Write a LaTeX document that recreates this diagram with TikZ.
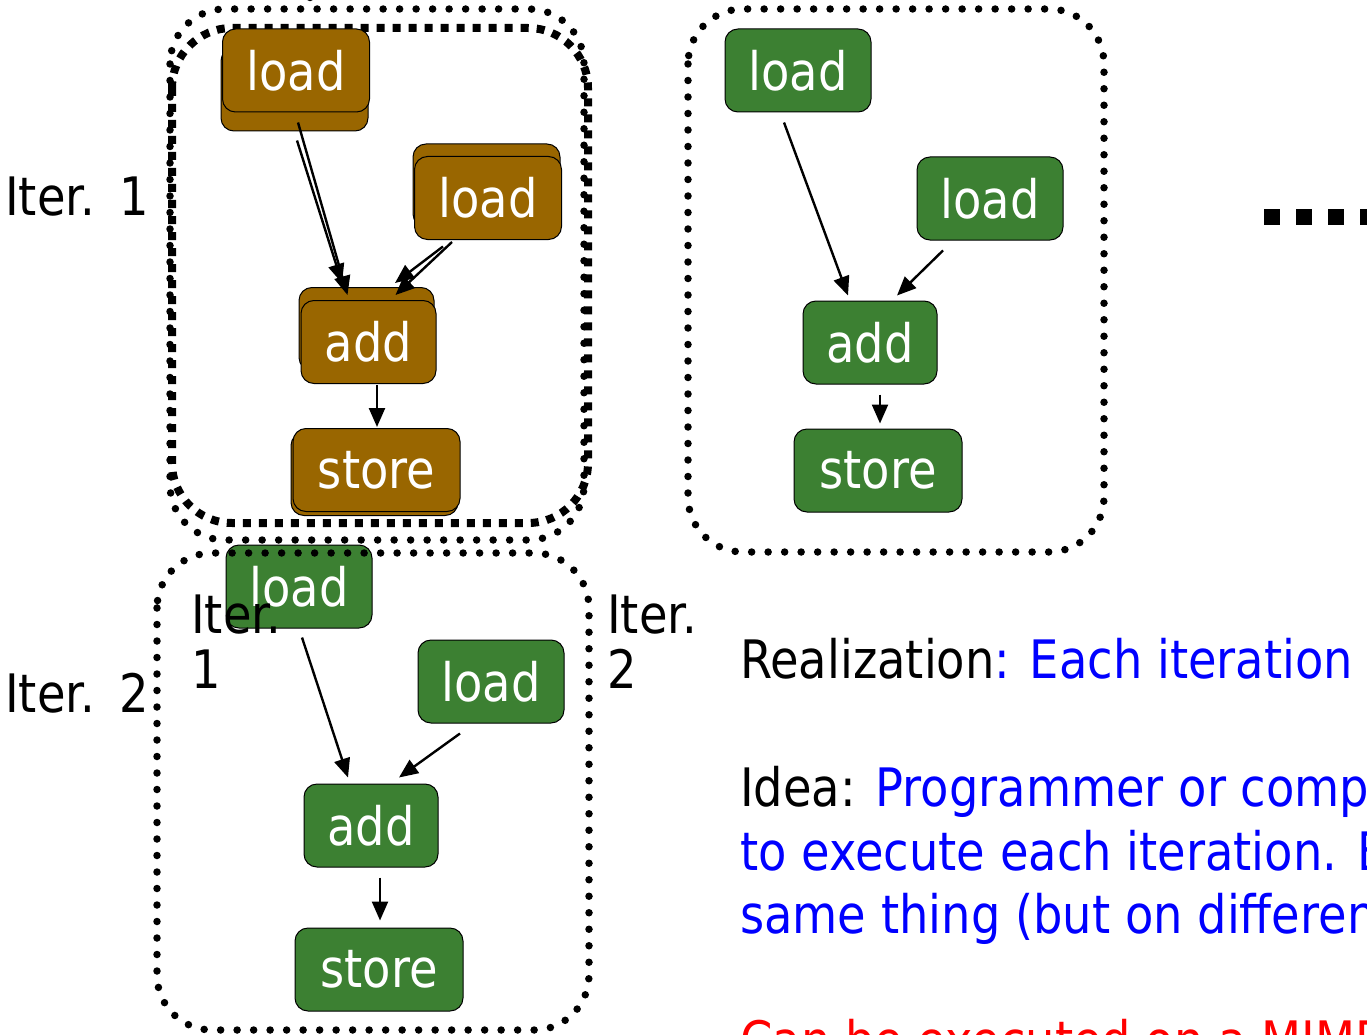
\documentclass[tikz,border=0pt]{standalone}
\usepackage{fontspec}
\setmainfont{DejaVu Sans}[FakeStretch=0.875]
\usetikzlibrary{arrows.meta}
\definecolor{opgreen}{RGB}{60,128,50}
\definecolor{opbrown}{RGB}{153,102,0}
\begin{document}
\begin{tikzpicture}[x=1pt,y=-1pt,
  op/.style={draw=black, line width=1pt, rounded corners=13pt, minimum height=83pt,
    inner sep=0pt, text=white, font=\fontsize{53}{60}\selectfont},
  gop/.style={op, fill=opgreen},
  bop/.style={op, fill=opbrown},
  flow/.style={line width=2.4pt, -{Triangle[length=19pt,width=16pt]}},
  rdots/.style={line width=7.5pt, line cap=round, dash pattern=on 0pt off 16.5pt, rounded corners=55pt},
  sdots/.style={line width=8pt, dash pattern=on 8pt off 8pt, rounded corners=60pt},
  lbl/.style={inner sep=0pt, anchor=base west, font=\fontsize{53}{57}\selectfont},
  txt/.style={inner sep=0pt, anchor=base west, font=\fontsize{53}{64}\selectfont},
]
\useasboundingbox (0,0) rectangle (1367,1035);
\clip (0,0) rectangle (1367,1035);

% iteration outlines, upper row
\draw[sdots] (172,28) rectangle (588,523);
\draw[rdots] (170,9) rectangle (584,540);
\draw[rdots] (688,9) rectangle (1104,552);
\fill (310,-2.5) circle (3.75);

% iteration 1 (brown), drawn twice with a small offset
\node[bop, minimum width=147pt] (bl1b) at (294.5,89.5) {};
\node[bop, minimum width=147pt] (bl1) at (296,70.5) {load};
\node[bop, minimum width=147pt] (bl2b) at (486.5,185.5) {};
\node[bop, minimum width=147pt] (bl2) at (488,198) {load};
\node[bop, minimum width=135pt] (badb) at (366.5,329) {};
\node[bop, minimum width=135pt] (bad) at (368.5,342) {add};
\node[bop, minimum width=167pt] (bstb) at (374.5,474) {};
\node[bop, minimum width=167pt] (bst) at (376.5,470) {store};

\draw[flow] ([shift={(2,10)}]bl1.south) -- ([shift={(-21,-5)}]bad.north);
\draw[flow] ([shift={(2.5,9)}]bl1b.south) -- ([shift={(-24.5,-4)}]badb.north);
\draw[flow] ([shift={(-36,2)}]bl2.south) -- ([shift={(27,-5)}]bad.north);
\draw[flow] ([shift={(-43.5,19)}]bl2b.south) -- ([shift={(28.5,-4)}]badb.north);
\draw[flow] ([shift={(8.5,1)}]bad.south) -- ([shift={(0.5,-1)}]bst.north);

% iteration 2 (green), upper right
\node[gop, minimum width=146pt] (gl1) at (798,70.5) {load};
\node[gop, minimum width=146pt] (gl2) at (990,198.5) {load};
\node[gop, minimum width=134pt] (gad) at (870,342.5) {add};
\node[gop, minimum width=168pt] (gst) at (878,470.5) {store};

\draw[flow] ([shift={(-14,10)}]gl1.south) -- ([shift={(-22,-5)}]gad.north);
\draw[flow] ([shift={(-47,10)}]gl2.south) -- ([shift={(27,-5)}]gad.north);
\draw[flow] ([shift={(10,10)}]gad.south) -- ([shift={(2,-5)}]gst.north);

% green copy, lower left
\node[gop, minimum width=146pt] (ol1) at (299,586.5) {load};
\node[gop, minimum width=146pt] (ol2) at (491,681.5) {load};
\node[gop, minimum width=134pt] (oad) at (371,825.5) {add};
\node[gop, minimum width=168pt] (ost) at (379,969.5) {store};

\draw[flow] ([shift={(3,9)}]ol1.south) -- ([shift={(-23,-6)}]oad.north);
\draw[flow] ([shift={(-31,10)}]ol2.south) -- ([shift={(28,-6)}]oad.north);
\draw[flow] ([shift={(9,10)}]oad.south) -- ([shift={(1,-7)}]ost.north);

\draw[rdots] (157,553) rectangle (589,1030);

% iteration labels
\node[lbl] (it1) at (5,215) {Iter.\hspace{24pt}1};
\node[lbl] (it2) at (5,712) {Iter.\hspace{24pt}2};
\node[lbl] (ia) at (191,633) {Iter.};
\node[lbl] (ib) at (191,688) {1};
\node[lbl] (ic) at (607,633) {Iter.};
\node[lbl] (id) at (607,688) {2};

% continuation mark
\coordinate (more) at (1264,217);
\draw[line width=16pt, dash pattern=on 16pt off 16pt] (more) -- ++(140,0);

% explanation text
\node[txt] (r1) at (740,678) {Realization\textcolor{blue}{: Each iteration}};
\node[txt] (r2) at (740,806) {Idea: \textcolor{blue}{Programmer or compiler}};
\node[txt, text=blue] (r3) at (740,870) {to execute each iteration. Each};
\node[txt, text=blue] (r4) at (740,933) {same thing (but on different};
\node[txt, text=red] (r5) at (740,1059) {Can be executed on a MIMD};
\end{tikzpicture}
\end{document}
